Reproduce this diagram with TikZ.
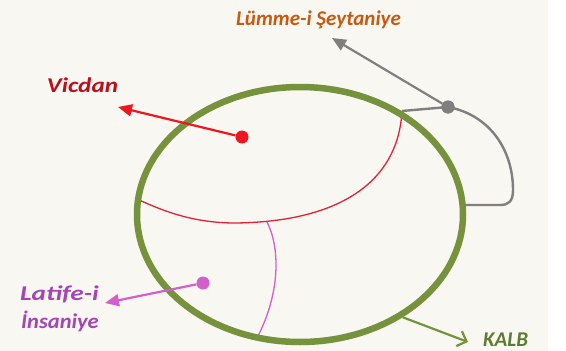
\documentclass[tikz,border=0pt]{standalone}
\usepackage{fontspec}
\newfontfamily\lab{Carlito}
\usetikzlibrary{arrows.meta,shapes.geometric}
\definecolor{bg}{HTML}{F8F7F1}
\definecolor{kgreen}{HTML}{76923C}
\definecolor{kalbtxt}{HTML}{5E7B32}
\definecolor{divred}{HTML}{E3203A}
\definecolor{vred}{HTML}{EE1620}
\definecolor{vtxt}{HTML}{B8101E}
\definecolor{ltxt}{HTML}{C55A11}
\definecolor{sgray}{HTML}{7F7F7F}
\definecolor{ipink}{HTML}{D35FCC}
\definecolor{itxt}{HTML}{A345B5}
\begin{document}
\begin{tikzpicture}[x=1pt,y=-1pt,
  lbl/.style={font=\lab\bfseries\itshape\fontsize{21}{25}\selectfont, inner sep=0pt},
  dot/.style={circle, fill, inner sep=0pt, minimum size=13pt},
  ptr/.style={-{Triangle[length=14pt,width=12pt]}, line width=2.2pt},
]
\fill[white] (0,0) rectangle (566,351);
\fill[bg] (0,0) rectangle (548,351);
\path[use as bounding box] (0,0) rectangle (566,351);

% inner dividing lines
\draw[divred, line width=1.3pt] (137,199) .. controls (165,212) and (195,223) .. (235,223)
  .. controls (335,222) and (398,185) .. (402,111);
\draw[ipink, line width=1.3pt] (267,222) .. controls (279,245) and (282,290) .. (257,338);

% gray loop
\coordinate (gs) at (402,111);
\coordinate (ge) at (462,205);
\node[dot, fill=sgray] (gdot) at (448,107) {};
\draw[sgray, line width=2.4pt] (gs) -- (gdot.center) .. controls (490,115) and (513,150) .. (513,190)
  .. controls (513,202) and (508,205) .. (500,205) -- (ge);

% heart
\node[draw=kgreen, line width=6.5pt, ellipse, minimum width=326pt, minimum height=255pt, inner sep=0pt] (kalb) at (300,214.5) {};

% dots
\node[dot, fill=vred] (vdot) at (242,137) {};
\node[dot, fill=ipink] (idot) at (203,283) {};
\node[dot, fill=sgray] at (448,107) {};

% tips
\coordinate (vtip) at (118,107);
\coordinate (ltip) at (332,38);
\coordinate (itip) at (105,303);
\coordinate (ktip) at (468,342);

% arrows
\draw[ptr, vred] (vdot) -- (vtip);
\draw[ptr, sgray] (gdot) -- (ltip);
\draw[ptr, ipink] (idot) -- (itip);
\draw[kgreen, line width=2.2pt, -{Straight Barb[length=8pt,width=16pt]}] (kalb.-45) -- (ktip);

% labels
\node[lbl, text=vtxt, anchor=base] (vic) at (82.5,92) {\scalebox{1.2}[1]{Vicdan}};
\node[lbl, text=ltxt, anchor=base] (lum) at (318.5,25) {Lümme-i Şeytaniye};
\node[lbl, text=itxt, anchor=base west] (lat) at (20,300) {\scalebox{1.3}[1]{Latife-i}};
\node[lbl, text=itxt, anchor=base west] (ins) at (21,328) {\scalebox{1.07}[1]{İnsaniye}};
\node[lbl, text=kalbtxt, anchor=base west] (kt) at (483,346) {KALB};
\end{tikzpicture}
\end{document}
